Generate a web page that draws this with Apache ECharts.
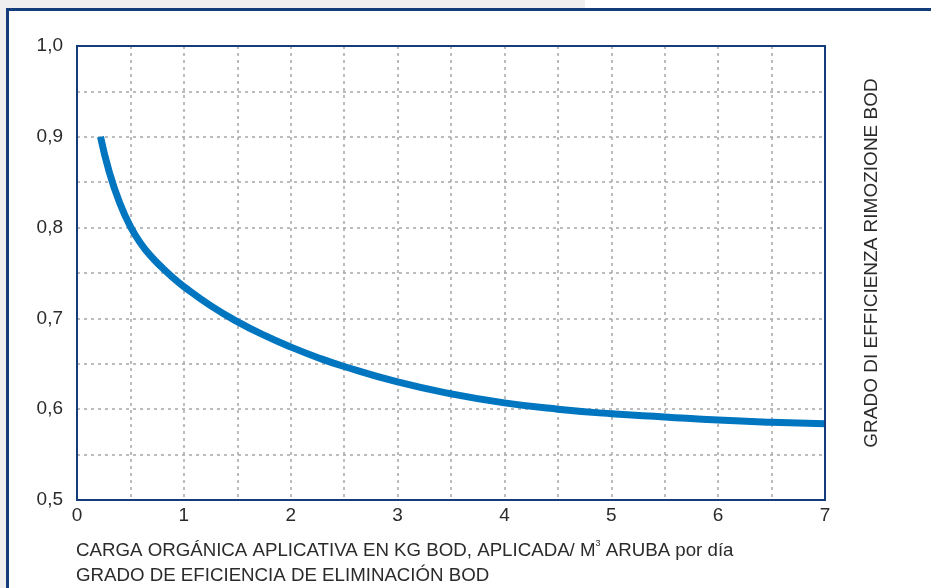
<!DOCTYPE html>
<html><head><meta charset="utf-8">
<script src="https://cdn.jsdelivr.net/npm/echarts@6/dist/echarts.min.js"></script>
<style>html,body{margin:0;padding:0;background:#fff}#c{width:931px;height:588px}</style>
</head><body><div id="c"></div>
<script>
const loadX = [0.22, 0.3, 0.4, 0.5, 0.6, 0.7, 0.8, 0.9, 1.0, 1.25, 1.5, 1.75, 2.0, 2.25, 2.5, 3.0, 3.5, 4.0, 4.5, 5.0, 5.5, 6.0, 6.5, 7.0];
const efficiency = [0.900, 0.862, 0.827, 0.801, 0.782, 0.7675, 0.7555, 0.7447, 0.735, 0.714, 0.6965, 0.6815, 0.6685, 0.657, 0.647, 0.630, 0.617, 0.607, 0.600, 0.595, 0.5915, 0.588, 0.5856, 0.584];
const xTitle1 = 'CARGA ORGÁNICA APLICATIVA EN KG BOD, APLICADA/ M';
const xTitle1b = ' ARUBA por día';
const xTitle2 = 'GRADO DE EFICIENCIA DE ELIMINACIÓN BOD';
const yTitle = 'GRADO DI EFFICIENZA RIMOZIONE BOD';

const chart = echarts.init(document.getElementById('c'));
const navy = '#123d7a';
const font = '"Liberation Sans", Arial, sans-serif';
const grid = {left: 77, top: 46, right: 106, bottom: 88};
const dash = {color: '#a6a6a6', width: 1.5, type: [3, 4]};
chart.setOption({
  animation: false,
  graphic: [
    {type: 'rect', shape: {x: 0, y: 0, width: 585, height: 9}, style: {fill: '#efeff0'}, z: 0},
    {type: 'rect', shape: {x: 0, y: 0, width: 7, height: 588}, style: {fill: '#efeff0'}, z: 0},
    {type: 'rect', shape: {x: 6, y: 8, width: 925, height: 3}, style: {fill: navy}, z: 1},
    {type: 'rect', shape: {x: 6, y: 8, width: 3, height: 580}, style: {fill: navy}, z: 1},
    {type: 'rect', shape: {x: 77, y: 46, width: 748, height: 454}, style: {fill: 'none', stroke: navy, lineWidth: 2}, z: 10},
    {type: 'text', x: 76, y: 551, style: {
      text: '{a|' + xTitle1 + '}{s|3}{a|' + xTitle1b + '}', verticalAlign: 'middle',
      rich: {a: {fontFamily: font, fontSize: 18.7, fill: '#2b2b2b', height: 22, lineHeight: 22},
             s: {fontFamily: font, fontSize: 9, fill: '#2b2b2b', height: 22, lineHeight: 22, padding: [0, 0, 14, 0]}}
    }},
    {type: 'text', x: 76, y: 576, style: {text: xTitle2, fontFamily: font, fontSize: 18.7, fill: '#2b2b2b', verticalAlign: 'middle'}},
    {type: 'text', x: 872, y: 263, rotation: Math.PI / 2, style: {
      text: yTitle, fontFamily: font, fontSize: 19, fill: '#2b2b2b', align: 'center', verticalAlign: 'middle'}}
  ],
  grid: Object.assign({show: false}, grid),
  xAxis: {
    type: 'value', min: 0, max: 7, interval: 1,
    axisLine: {show: false}, axisTick: {show: false},
    axisLabel: {fontFamily: font, fontSize: 19, color: '#2b2b2b', margin: 6},
    splitLine: {show: true, lineStyle: dash},
    minorTick: {show: false, splitNumber: 2},
    minorSplitLine: {show: true, lineStyle: dash}
  },
  yAxis: {
    type: 'value', min: 0.5, max: 1.0, interval: 0.1,
    axisLine: {show: false}, axisTick: {show: false},
    axisLabel: {fontFamily: font, fontSize: 19, color: '#2b2b2b', margin: 14,
      formatter: v => v.toFixed(1).replace('.', ',')},
    splitLine: {show: true, lineStyle: dash},
    minorTick: {show: false, splitNumber: 2},
    minorSplitLine: {show: true, lineStyle: dash}
  },
  series: [{
    type: 'line', smooth: 0.5, showSymbol: false,
    data: loadX.map((x, i) => [x, efficiency[i]]),
    lineStyle: {color: '#0076c0', width: 7, cap: 'butt'},
    z: 3
  }]
});
</script></body></html>
